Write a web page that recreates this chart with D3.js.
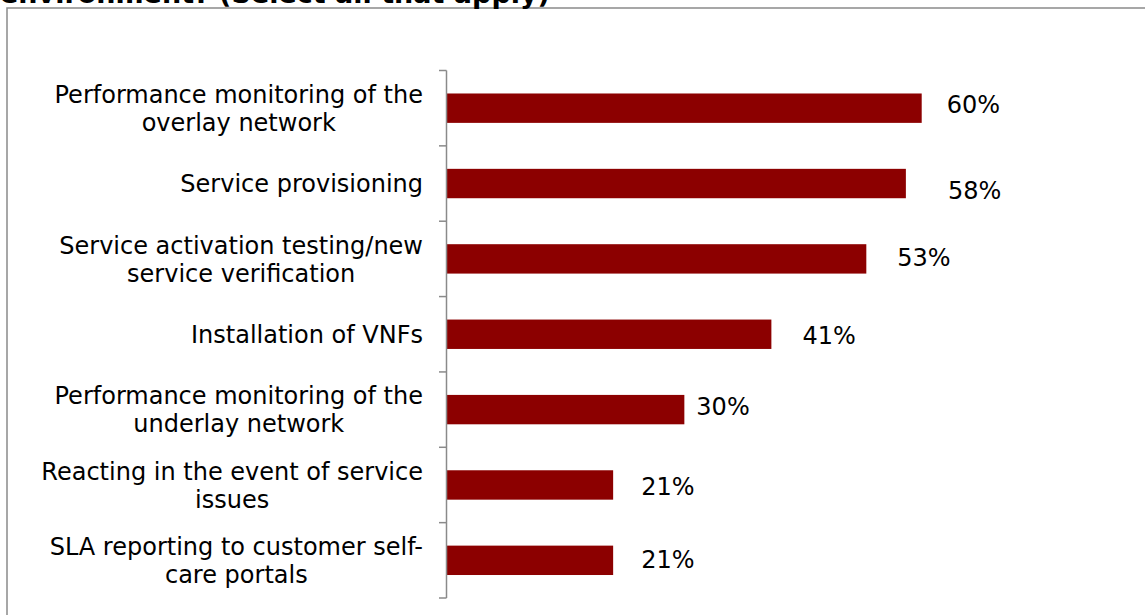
<!DOCTYPE html>
<html>
<head>
<meta charset="utf-8">
<script src="https://cdn.jsdelivr.net/npm/d3@7"></script>
<style>
  html, body { margin: 0; padding: 0; background: #fff; }
  svg { display: block; }
</style>
</head>
<body>
<svg id="chart" width="1145" height="615"></svg>
<script>
// Survey responses: share of respondents selecting each activity
const categories = [
  ["Performance monitoring of the", "overlay network"],
  ["Service provisioning"],
  ["Service activation testing/new", "service verification"],
  ["Installation of VNFs"],
  ["Performance monitoring of the", "underlay network"],
  ["Reacting in the event of service", "issues"],
  ["SLA reporting to customer self-", "care portals"]
];
const values = [60, 58, 53, 41, 30, 21, 21];
const valueLabels = ["60%", "58%", "53%", "41%", "30%", "21%", "21%"];
// horizontal nudge and baseline offset of each data label relative to its bar
const labelDx = [25, 42, 31, 31, 12, 28, 28];
const labelDy = [5, 15, 7, 10, 5, 10, 8];
const titleText = "environment? (Select all that apply)";

const svg = d3.select("#chart");
const font = "'DejaVu Sans', Verdana, sans-serif";

// outer frame
svg.append("rect")
  .attr("x", 7).attr("y", 8)
  .attr("width", 1160).attr("height", 630)
  .attr("fill", "none")
  .attr("stroke", "#8a8a8a")
  .attr("stroke-width", 1.5);

// last line of the question title
svg.append("text")
  .attr("x", 0).attr("y", 3)
  .attr("font-family", font)
  .attr("font-weight", "bold")
  .attr("font-size", 27)
  .attr("fill", "#000")
  .text(titleText);

const x0 = 447;
const x = d3.scaleLinear().domain([0, 60]).range([x0, 921.7]);
const y = d3.scaleBand()
  .domain(d3.range(categories.length))
  .range([70.5, 598])
  .paddingInner(0.61)
  .paddingOuter(0.305);

// bars
svg.append("g").selectAll("rect")
  .data(values)
  .join("rect")
  .attr("x", x(0))
  .attr("y", (d, i) => y(i))
  .attr("width", d => x(d) - x(0))
  .attr("height", y.bandwidth())
  .attr("fill", "#8c0000");

// category axis: vertical line with ticks between categories
const axisG = svg.append("g");
const step = y.step();
const axisTop = y.range()[0];
const axisBottom = y.range()[1];
axisG.append("line")
  .attr("x1", x0 - 0.5).attr("x2", x0 - 0.5)
  .attr("y1", axisTop).attr("y2", axisBottom)
  .attr("stroke", "#8a8a8a").attr("stroke-width", 1.5);
axisG.selectAll("line.tick")
  .data(d3.range(categories.length + 1))
  .join("line")
  .attr("class", "tick")
  .attr("x1", x0 - 8).attr("x2", x0 - 0.5)
  .attr("y1", i => axisTop + i * step)
  .attr("y2", i => axisTop + i * step)
  .attr("stroke", "#8a8a8a").attr("stroke-width", 1.5);

// category labels: text block right-aligned at the axis, lines centered within it
const lineH = 28;
const labelRight = 423;
const labels = svg.append("g")
  .attr("font-family", font)
  .attr("font-size", 24)
  .attr("fill", "#000")
  .attr("text-anchor", "middle");
labels.selectAll("text")
  .data(categories)
  .join("text")
  .each(function(lines, i) {
    const t = d3.select(this);
    const spans = lines.map((ln, k) =>
      t.append("tspan")
        .attr("x", 0)
        .attr("y", (k - (lines.length - 1) / 2) * lineH)
        .attr("dy", "0.36em")
        .text(ln));
    const w = d3.max(spans, s => s.node().getComputedTextLength());
    t.attr("transform", `translate(${labelRight - w / 2},${y(i) + y.bandwidth() / 2})`);
  });

// value labels beside each bar
svg.append("g")
  .attr("font-family", font)
  .attr("font-size", 24)
  .attr("fill", "#000")
  .selectAll("text")
  .data(values)
  .join("text")
  .attr("x", (d, i) => x(d) + labelDx[i])
  .attr("y", (d, i) => y(i) + y.bandwidth() / 2 + labelDy[i])
  .text((d, i) => valueLabels[i]);
</script>
</body>
</html>
